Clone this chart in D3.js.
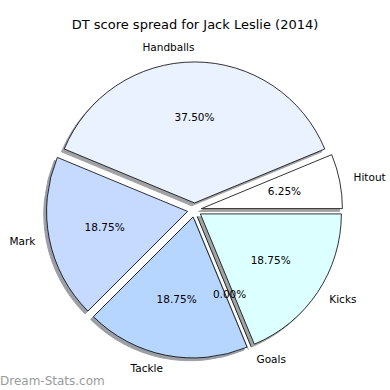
<!DOCTYPE html>
<html>
<head>
<meta charset="utf-8">
<script src="https://cdn.jsdelivr.net/npm/d3@7"></script>
<style>
  body { margin: 0; background: #fff; }
  text { font-family: "DejaVu Sans", sans-serif; fill: #000; }
</style>
</head>
<body>
<div id="chart"></div>
<script>
// data, in drawing order (matplotlib: counter-clockwise from 3 o'clock)
const categories = ["Hitout", "Handballs", "Mark", "Tackle", "Goals", "Kicks"];
const values = [1, 6, 3, 3, 0, 3];
const colors = ["#ffffff", "#eaf1ff", "#c6d9ff", "#b7d6ff", "#cccccc", "#dcffff"];
const title = "DT score spread for Jack Leslie (2014)";

const width = 390, height = 390;
const cx = 194.5, cy = 210, r = 141;
const explode = 0.05 * r;
const shadowOff = 0.02 * r;

const svg = d3.select("#chart").append("svg")
    .attr("width", width)
    .attr("height", height);

svg.append("rect").attr("width", width).attr("height", height).attr("fill", "#fff");

// title
svg.append("text")
    .attr("x", 195).attr("y", 25)
    .attr("text-anchor", "middle")
    .attr("dominant-baseline", "middle")
    .style("font-size", "13px")
    .text(title);

const total = d3.sum(values);
// start at east, go counter-clockwise (d3 angles are clockwise from north)
const pie = d3.pie().sort(null)
    .startAngle(Math.PI / 2)
    .endAngle(Math.PI / 2 - 2 * Math.PI);

const arcs = pie(values).map((d, i) => {
    const mid = (d.startAngle + d.endAngle) / 2;
    return Object.assign(d, {
        i: i,
        mid: mid,
        ox: cx + explode * Math.sin(mid),
        oy: cy - explode * Math.cos(mid)
    });
});

const arc = d3.arc().innerRadius(0).outerRadius(r);

// wedge path incl. zero-size wedges (drawn as a radius line)
function wedgePath(d) {
    if (d.startAngle === d.endAngle) {
        return "M0,0L" + (r * Math.sin(d.startAngle)) + "," + (-r * Math.cos(d.startAngle));
    }
    return arc(d);
}

const shade = c => {
    const k = d3.rgb(c);
    return d3.rgb(k.r * 0.3, k.g * 0.3, k.b * 0.3).toString();
};

// shadows first (below every wedge)
svg.append("g").selectAll("path")
    .data(arcs)
    .join("path")
    .attr("transform", d => `translate(${d.ox - shadowOff},${d.oy + shadowOff})`)
    .attr("d", wedgePath)
    .attr("fill", d => shade(colors[d.i]))
    .attr("stroke", d => shade(colors[d.i]))
    .attr("stroke-width", 1)
    .attr("opacity", 0.5);

// wedges
svg.append("g").selectAll("path")
    .data(arcs)
    .join("path")
    .attr("transform", d => `translate(${d.ox},${d.oy})`)
    .attr("d", wedgePath)
    .attr("fill", d => colors[d.i])
    .attr("stroke", "#000")
    .attr("stroke-width", 0.8);

// category labels
svg.append("g").selectAll("text")
    .data(arcs)
    .join("text")
    .attr("x", d => d.ox + 1.1 * r * Math.sin(d.mid))
    .attr("y", d => d.oy - 1.1 * r * Math.cos(d.mid))
    .attr("text-anchor", d => Math.sin(d.mid) > 0 ? "start" : "end")
    .attr("dominant-baseline", "middle")
    .style("font-size", "10.5px")
    .text(d => categories[d.i]);

// percentages
svg.append("g").selectAll("text")
    .data(arcs)
    .join("text")
    .attr("x", d => d.ox + 0.6 * r * Math.sin(d.mid))
    .attr("y", d => d.oy - 0.6 * r * Math.cos(d.mid))
    .attr("text-anchor", "middle")
    .attr("dominant-baseline", "middle")
    .style("font-size", "10.5px")
    .text(d => (d.value / total * 100).toFixed(2) + "%");

// watermark
svg.append("text")
    .attr("x", 0).attr("y", 381)
    .attr("dominant-baseline", "middle")
    .style("font-size", "12px")
    .style("fill", "#9a9a9a")
    .text("Dream-Stats.com");
</script>
</body>
</html>
